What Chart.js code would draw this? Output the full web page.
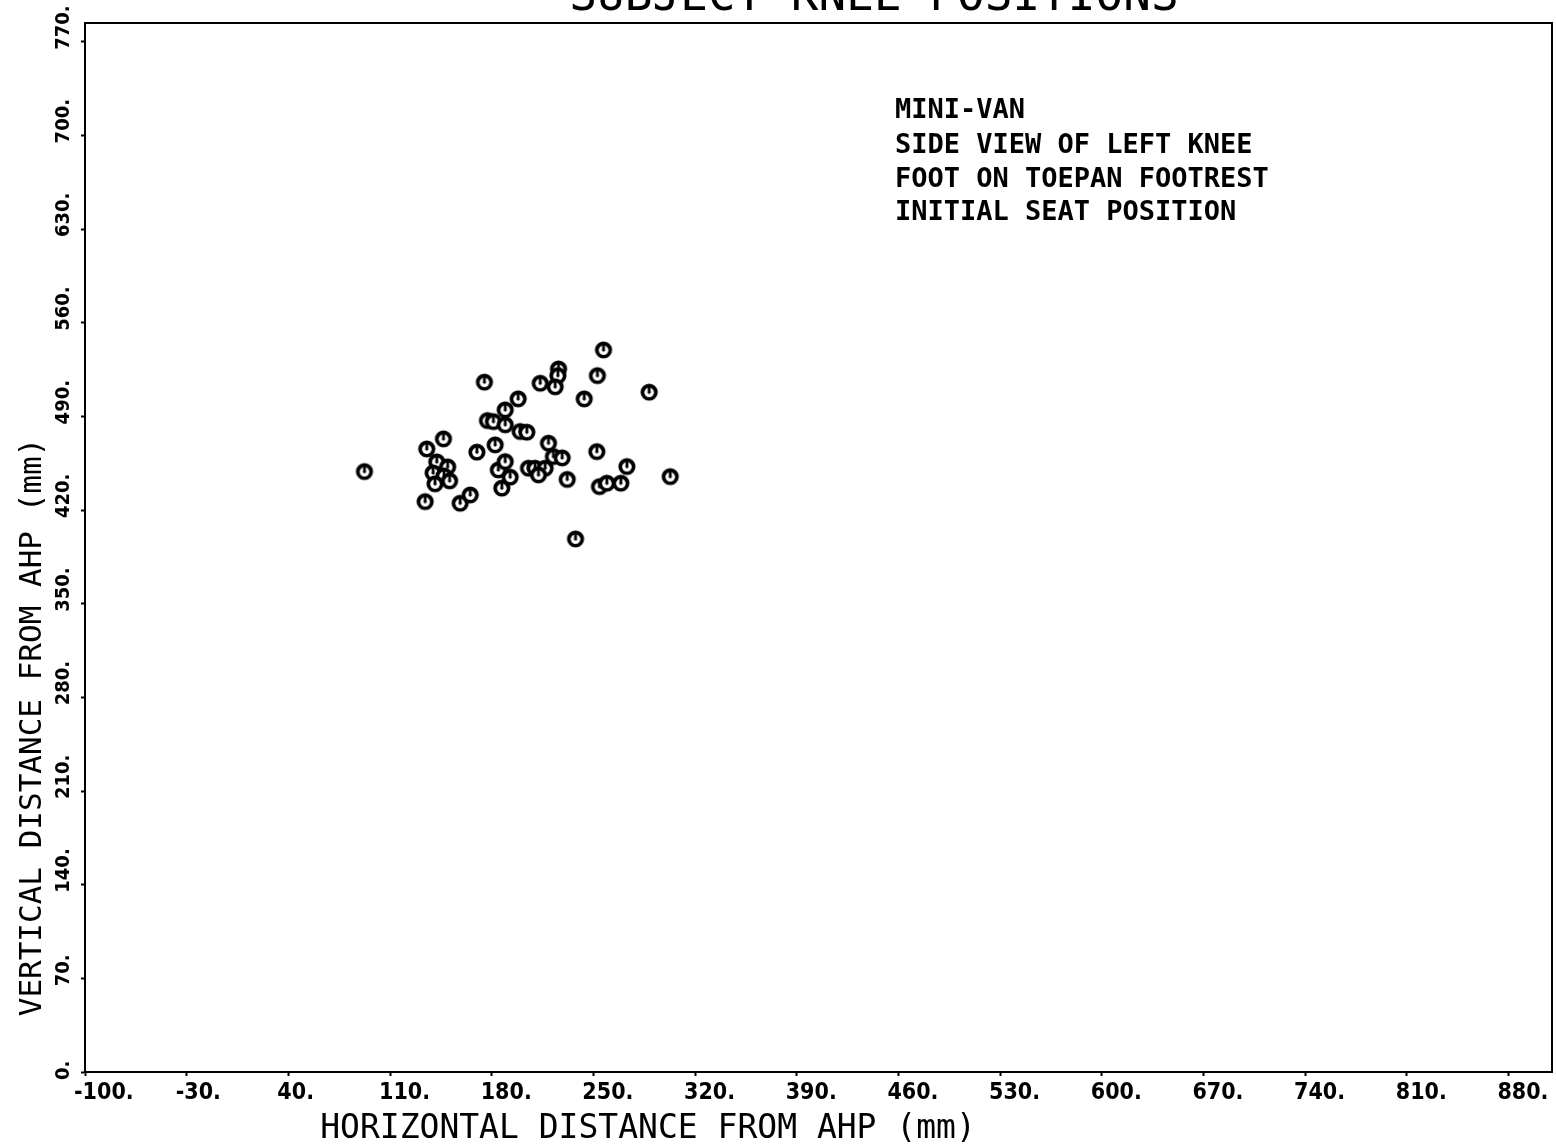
<!DOCTYPE html>
<html><head><meta charset="utf-8">
<script src="https://cdn.jsdelivr.net/npm/chart.js@4/dist/chart.umd.min.js"></script>
<style>html,body{margin:0;padding:0;background:#fff;}</style>
</head><body>
<canvas id="c" width="1556" height="1148"></canvas>
<script>
const titleText = 'SUBJECT KNEE POSITIONS';
const xAxisTitle = 'HORIZONTAL DISTANCE FROM AHP (mm)';
const yAxisTitle = 'VERTICAL DISTANCE FROM AHP (mm)';
const noteLines = ['MINI-VAN', 'SIDE VIEW OF LEFT KNEE', 'FOOT ON TOEPAN FOOTREST', 'INITIAL SEAT POSITION'];
const xTicks = [-100, -30, 40, 110, 180, 250, 320, 390, 460, 530, 600, 670, 740, 810, 880];
const yTicks = [0, 70, 140, 210, 280, 350, 420, 490, 560, 630, 700, 770];
const kneeX = [92.4, 175.0, 198.2, 189.3, 177.1, 181.2, 189.3, 199.6, 204.2, 146.8,
  135.3, 182.4, 169.8, 142.2, 149.7, 139.7, 147.2, 151.0, 141.0, 184.6,
  189.3, 192.7, 187.0, 134.2, 158.3, 165.2, 257.0, 226.0, 225.6, 213.4,
  223.7, 252.8, 288.4, 243.7, 219.1, 222.5, 228.5, 252.4, 273.1, 302.9,
  205.3, 209.9, 216.8, 212.2, 232.0, 254.2, 259.3, 268.9, 237.7];
const kneeY = [448.8, 515.6, 503.1, 494.9, 486.9, 486.1, 483.7, 478.7, 478.2, 473.2,
  465.7, 468.7, 463.3, 456.0, 452.3, 447.8, 445.5, 441.8, 439.6, 450.0,
  456.2, 444.6, 436.4, 426.3, 425.1, 431.3, 539.7, 525.5, 520.5, 514.8,
  512.1, 520.5, 508.1, 503.1, 470.0, 460.0, 459.0, 463.7, 452.5, 445.0,
  451.3, 451.3, 451.3, 446.3, 442.9, 437.5, 440.1, 440.1, 398.4];

// plotter-style marker: heavy ring with a small "U" shaped opening inside
function makeMarker() {
  const c = document.createElement('canvas');
  c.width = 20; c.height = 20;
  const g = c.getContext('2d');
  g.translate(10, 10);
  g.fillStyle = '#000';
  g.beginPath(); g.arc(0, 0, 8.6, 0, Math.PI * 2); g.fill();
  g.fillStyle = '#fff';
  g.beginPath(); g.arc(0, 0.3, 4.8, 0, Math.PI * 2); g.fill();
  g.fillStyle = '#000';
  g.fillRect(-1.4, -5, 2.8, 5.3);
  g.beginPath(); g.arc(0, 0.3, 1.4, 0, Math.PI * 2); g.fill();
  return c;
}
const marker = makeMarker();

const condFam = '"DejaVu Sans Condensed", "Liberation Sans Narrow", sans-serif';
const tickFont = {family: condFam, size: 23, weight: 'bold'};

const decor = {
  id: 'decor',
  afterDraw(chart) {
    const {ctx, chartArea: a, scales} = chart;
    ctx.save();
    ctx.strokeStyle = '#000';
    ctx.lineWidth = 2;
    ctx.strokeRect(a.left, a.top, a.right - a.left, a.bottom - a.top);
    ctx.fillStyle = '#000';
    // y tick labels, rotated, reading upward from just below each tick
    ctx.font = 'bold 20px ' + condFam;
    ctx.textAlign = 'left';
    ctx.textBaseline = 'middle';
    yTicks.forEach(v => {
      const py = scales.y.getPixelForValue(v);
      ctx.save();
      ctx.translate(64, py + 8);
      ctx.rotate(-Math.PI / 2);
      ctx.fillText(v + '.', 0, 0);
      ctx.restore();
    });
    ctx.textBaseline = 'alphabetic';
    ctx.textAlign = 'center';
    ctx.font = '46px "DejaVu Sans Mono"';
    ctx.fillText(titleText, 874, 10);
    ctx.font = '33px "DejaVu Sans Mono"';
    ctx.fillText(xAxisTitle, 648, 1138);
    ctx.save();
    ctx.translate(41, 727);
    ctx.rotate(-Math.PI / 2);
    ctx.font = '31px "DejaVu Sans Mono"';
    ctx.fillText(yAxisTitle, 0, 0);
    ctx.restore();
    ctx.textAlign = 'left';
    ctx.font = 'bold 27px "DejaVu Sans Mono"';
    const base = [118, 153, 187, 220];
    noteLines.forEach((t, i) => ctx.fillText(t, 895, base[i]));
    ctx.restore();
  }
};

new Chart(document.getElementById('c'), {
  type: 'scatter',
  data: {
    datasets: [{
      data: kneeX.map((x, i) => ({x: x, y: kneeY[i]})),
      pointStyle: marker,
      pointRadius: 8,
      showLine: false
    }]
  },
  options: {
    responsive: false,
    animation: false,
    devicePixelRatio: 1,
    layout: {autoPadding: false, padding: {left: 64, top: 23, right: 4, bottom: 0}},
    plugins: {legend: {display: false}, title: {display: false}, tooltip: {enabled: false}},
    scales: {
      x: {
        type: 'linear', min: -100, max: 910,
        afterBuildTicks: s => { s.ticks = xTicks.map(v => ({value: v})); },
        afterFit: s => { s.height = 76; s.paddingLeft = 0; s.paddingRight = 0; },
        grid: {display: true, drawOnChartArea: false, drawTicks: true, tickLength: 4, tickWidth: 2, color: '#000'},
        border: {display: true, color: '#000', width: 2},
        ticks: {
          autoSkip: false, maxRotation: 0, minRotation: 0, align: 'start', labelOffset: -11, padding: 3,
          color: '#000', font: tickFont,
          callback: v => v + '.'
        }
      },
      y: {
        type: 'linear', min: 0, max: 784,
        afterBuildTicks: s => { s.ticks = yTicks.map(v => ({value: v})); },
        afterFit: s => { s.width = 21; s.paddingTop = 0; s.paddingBottom = 0; },
        grid: {display: true, drawOnChartArea: false, drawTicks: true, tickLength: 4, tickWidth: 2, color: '#000'},
        border: {display: true, color: '#000', width: 2},
        ticks: {display: false, autoSkip: false}
      }
    }
  },
  plugins: [decor]
});
</script>
</body></html>
